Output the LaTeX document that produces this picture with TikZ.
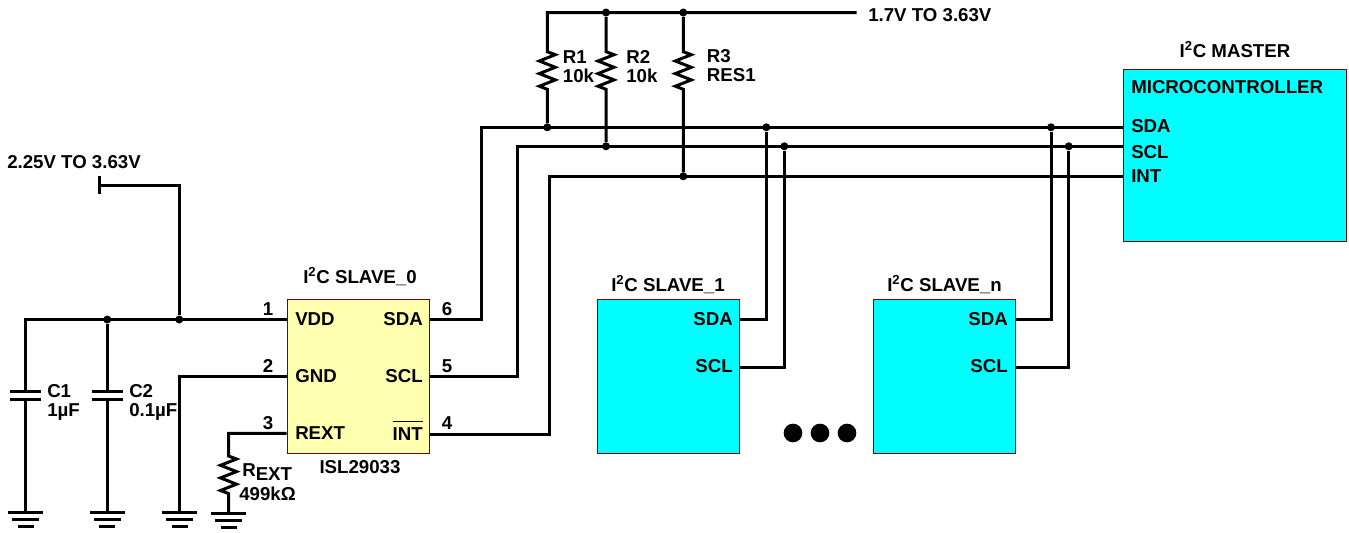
\documentclass[tikz,border=0pt]{standalone}
\usepackage{fontspec}
\setmainfont{Liberation Sans}
\usetikzlibrary{positioning}
\definecolor{chipcyan}{RGB}{0,255,255}
\definecolor{chipyellow}{RGB}{255,255,176}
\definecolor{chipedge}{RGB}{128,0,0}
\newcommand{\iic}{I\textsuperscript{2}C}
\tikzset{%
	wire/.style={
		line width=2.25pt
	},
	chip/.style={
		draw=chipedge,
		line width=0.75pt,
		inner sep=0pt,
		minimum width=106.5pt,
		minimum height=115.5pt
	},
	junction/.style={
		circle,
		fill=black,
		inner sep=0pt,
		minimum size=6pt
	},
	label/.style={
		font=\fontsize{14}{14.25}\selectfont\bfseries,
		inner sep=0pt,
		align=left
	},
	bigdot/.style={
		circle,
		fill=black,
		inner sep=0pt,
		minimum size=14pt
	},
	resistor/.style={
		to path={-- ++(8,3) -- ++(-16,6.3) -- ++(16,6.3) -- ++(-16,6.3) -- ++(16,6.3) -- ++(-16,6.3) -- (\tikztotarget)}
	},
}
\begin{document}
\begin{tikzpicture}[x=0.75pt,y=-0.75pt]
	\useasboundingbox (0,0) rectangle (1349,532);
	% Chips
	\node[chip, fill=chipyellow] (Slave-0) at (358,376.3) {};
	\node[chip, fill=chipcyan] (Slave-1) at (668.5,376.3) {};
	\node[chip, fill=chipcyan] (Slave-n) at (944.5,376.3) {};
	\node[chip, fill=chipcyan, minimum width=167.25pt, minimum height=129.4pt] (Master) at (1234.5,155.7) {};
	% Wire points
	\foreach \name/\x/\y in {Vin/99/185, Vin-up/99/176, Vin-down/99/194, C1-corner/25.5/319.5,
		C1-top/25.5/391, C1-bot/25.5/399, C2-top/107.3/391, C2-bot/107.3/399,
		Gnd-1/25.5/512.3, Gnd-2/107.3/512.3, Gnd-3/179.5/512.3, Gnd-4/228.5/513.3,
		Rext-top/228.5/456, Rext-bot/228.5/493.5,
		Rail-left/547.3/12.5, Rail-right/856.7/12.5,
		R1-top/547.3/51.7, R1-bot/547.3/89.3, R2-top/606/51.7, R2-bot/606/89.3, R3-top/683.3/51.7, R3-bot/683.3/89.3,
		Sda-left/481.7/127.3, Scl-left/517/146.3, Int-left/549.3/176.3}
	{
		\coordinate (\name) at (\x,\y);
	}
	% Chip pins
	\foreach \name/\chip/\side/\y in {Pin-1/Slave-0/west/319.5, Pin-2/Slave-0/west/376.3, Pin-3/Slave-0/west/433.3,
		Pin-6/Slave-0/east/319.5, Pin-5/Slave-0/east/376.3, Pin-4/Slave-0/east/434,
		Sda-1/Slave-1/east/319.5, Scl-1/Slave-1/east/367, Sda-n/Slave-n/east/319.5, Scl-n/Slave-n/east/367,
		Sda-m/Master/west/127.3, Scl-m/Master/west/146.3, Int-m/Master/west/176.3}
	{
		\coordinate (\name) at (\chip.\side |- 0,\y);
	}
	% Junctions
	\foreach \name/\x/\y in {J-C2/107.3/319.5, J-Vin/179.3/319.5, J-R2/606/12.5, J-R3/683.3/12.5,
		J-R1s/547.3/127.3, J-R2s/606/146.3, J-R3s/683.3/176.3,
		J-Sda1/766.3/127.3, J-Scl1/784.3/146.3, J-Sdan/1051/127.3, J-Scln/1068.7/146.3}
	{
		\node[junction] (\name) at (\x,\y) {};
	}
	% Supply and ground wires
	\draw[wire] (Pin-1) -- (C1-corner) -- (C1-top);
	\draw[wire] (J-C2) -- (C2-top);
	\draw[wire] (J-Vin) |- (Vin);
	\draw[wire] (Vin-up) -- (Vin-down);
	\draw[wire] (C1-bot) -- (Gnd-1);
	\draw[wire] (C2-bot) -- (Gnd-2);
	\draw[wire] (Pin-2) -| (Gnd-3);
	\draw[wire] (Pin-3) -| (Rext-top) to[resistor] (Rext-bot) -- (Gnd-4);
	% Capacitor plates
	\foreach \c in {C1,C2}
	{
		\draw[wire] ([xshift=-11.5pt]\c-top) -- ([xshift=11.5pt]\c-top);
		\draw[wire] ([xshift=-11.5pt]\c-bot) -- ([xshift=11.5pt]\c-bot);
	}
	% Grounds
	\foreach \g in {1,...,4}
	{
		\draw[wire] ([xshift=-13pt]Gnd-\g) -- ([xshift=13pt]Gnd-\g);
		\draw[wire] ([xshift=-10pt,yshift=-5.2pt]Gnd-\g) -- ([xshift=10pt,yshift=-5.2pt]Gnd-\g);
		\draw[wire] ([xshift=-6pt,yshift=-10.6pt]Gnd-\g) -- ([xshift=6pt,yshift=-10.6pt]Gnd-\g);
	}
	% Pull-ups
	\draw[wire] (Rail-right) -- (Rail-left) -- (R1-top) to[resistor] (R1-bot) -- (J-R1s);
	\draw[wire] (J-R2) -- (R2-top) to[resistor] (R2-bot) -- (J-R2s);
	\draw[wire] (J-R3) -- (R3-top) to[resistor] (R3-bot) -- (J-R3s);
	% Bus
	\draw[wire] (Pin-6) -| (Sda-left) -- (Sda-m);
	\draw[wire] (Pin-5) -| (Scl-left) -- (Scl-m);
	\draw[wire] (Pin-4) -| (Int-left) -- (Int-m);
	\draw[wire] (Sda-1) -| (J-Sda1);
	\draw[wire] (Scl-1) -| (J-Scl1);
	\draw[wire] (Sda-n) -| (J-Sdan);
	\draw[wire] (Scl-n) -| (J-Scln);
	% Dots between slaves
	\foreach \i/\x in {1/793,2/820,3/847}
	{
		\node[bigdot] (Dot-\i) at (\x,433) {};
	}
	% Pin numbers
	\foreach \n/\x/\y in {1/268/309,2/268/366,3/268/423.5,6/447/309,5/447/366,4/447/423.5}
	{
		\node[label] (Num-\n) at (\x,\y) {\n};
	}
	% Left labels
	\foreach \name/\x/\y/\txt in {Vdd/295/319/VDD, Gnd/295/376/GND, Rext/295/433/REXT,
		M-title/1131/87/MICROCONTROLLER, M-sda/1131/126/SDA, M-scl/1131/152/SCL, M-int/1131/176/INT,
		Supply-0/7/162/2.25V TO 3.63V, Supply-1/868/15/1.7V TO 3.63V,
		C1-text/47/402/{C1\\1µF}, C2-text/129/402/{C2\\0.1µF},
		R1-text/562.7/67/{R1\\10k}, R2-text/626/67/{R2\\10k}, R3-text/706.7/66/{R3\\RES1},
		Rext-name/242/472/{R\raisebox{-3pt}{EXT}}, Rext-val/239/494/499kΩ}
	{
		\node[label, anchor=west] (L-\name) at (\x,\y) {\txt};
	}
	% Right labels
	\foreach \name/\x/\y/\txt in {Sda0/423/319/SDA, Scl0/423/376/SCL, Int0/423/430.5/{$\overline{\mbox{INT\rule{0pt}{12.5pt}}}$},
		Sda1/733/319/SDA, Scl1/733/366/SCL, Sdan/1008/319/SDA, Scln/1008/366/SCL}
	{
		\node[label, anchor=east] (L-\name) at (\x,\y) {\txt};
	}
	% Titles
	\node[label] (T-0) at (360,277) {\iic{} SLAVE\_0};
	\node[label] (T-1) at (668,285) {\iic{} SLAVE\_1};
	\node[label] (T-n) at (944.5,285) {\iic{} SLAVE\_n};
	\node[label] (T-m) at (1235,50) {\iic{} MASTER};
	\node[label] (T-part) at (360,467) {ISL29033};
\end{tikzpicture}
\end{document}
